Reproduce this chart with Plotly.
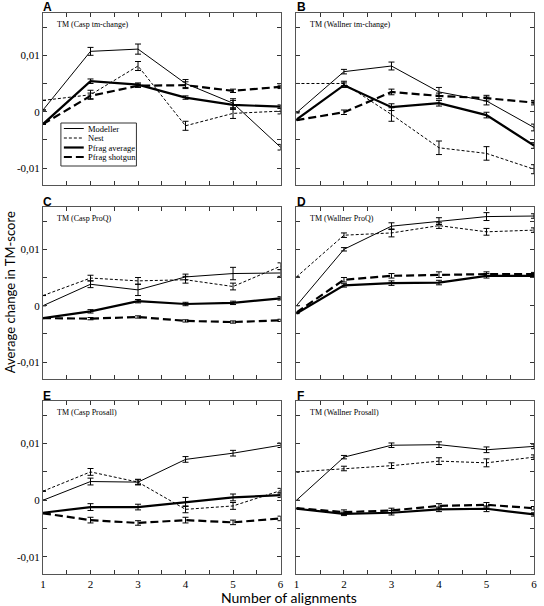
import plotly.graph_objects as go

x_alignments = [1, 2, 3, 4, 5, 6]
series_names = ["Modeller", "Nest", "Pfrag average", "Pfrag shotgun"]
panel_letters = ["A", "B", "C", "D", "E", "F"]
panel_titles = ["TM (Casp tm-change)", "TM (Wallner tm-change)", "TM (Casp ProQ)",
                "TM (Wallner ProQ)", "TM (Casp Prosall)", "TM (Wallner Prosall)"]
y_tick_vals = [-0.01, 0, 0.01]
y_tick_text = ["-0,01", "0", "0,01"]

# Panel A
A_modeller = [0.0003, 0.0107, 0.0111, 0.0050, 0.0015, -0.0063]
A_modeller_err = [0, 0.0007, 0.0009, 0.0007, 0.0008, 0.0005]
A_nest = [0.0020, 0.0030, 0.0081, -0.0025, -0.0003, 0.0001]
A_nest_err = [0, 0.0008, 0.0008, 0.0008, 0.0009, 0.0005]
A_pavg = [-0.0022, 0.0054, 0.0048, 0.0025, 0.0012, 0.0009]
A_pavg_err = [0, 0.0004, 0.0003, 0.0003, 0.0008, 0.0003]
A_pshot = [-0.0022, 0.0028, 0.0046, 0.0047, 0.0037, 0.0044]
A_pshot_err = [0, 0.0005, 0.0003, 0.0006, 0.0003, 0.0003]
# Panel B
B_modeller = [-0.0002, 0.0071, 0.0081, 0.0035, 0.0019, -0.0028]
B_modeller_err = [0, 0.0004, 0.0007, 0.0008, 0.0007, 0.0006]
B_nest = [0.0050, 0.0050, -0.0005, -0.0064, -0.0074, -0.0102]
B_nest_err = [0, 0.0004, 0.0012, 0.0012, 0.0012, 0.0008]
B_pavg = [-0.0014, 0.0047, 0.0008, 0.0015, -0.0006, -0.0060]
B_pavg_err = [0, 0.0004, 0.0006, 0.0005, 0.0005, 0.0005]
B_pshot = [-0.0015, -0.0001, 0.0035, 0.0028, 0.0024, 0.0016]
B_pshot_err = [0, 0.0004, 0.0005, 0.0005, 0.0005, 0.0004]
# Panel C
C_modeller = [0.0000, 0.0038, 0.0028, 0.0051, 0.0057, 0.0058]
C_modeller_err = [0, 0.0006, 0.0010, 0.0005, 0.0011, 0.0006]
C_nest = [0.0018, 0.0049, 0.0044, 0.0046, 0.0034, 0.0070]
C_nest_err = [0, 0.0005, 0.0006, 0.0006, 0.0006, 0.0006]
C_pavg = [-0.0022, -0.0010, 0.0008, 0.0003, 0.0005, 0.0013]
C_pavg_err = [0, 0.0003, 0.0003, 0.0003, 0.0003, 0.0003]
C_pshot = [-0.0022, -0.0023, -0.0020, -0.0027, -0.0029, -0.0026]
C_pshot_err = [0, 0.0002, 0.0002, 0.0002, 0.0002, 0.0002]
# Panel D
D_modeller = [0.0000, 0.0100, 0.0141, 0.0150, 0.0158, 0.0159]
D_modeller_err = [0, 0.0003, 0.0006, 0.0006, 0.0007, 0.0004]
D_nest = [0.0051, 0.0125, 0.0129, 0.0142, 0.0131, 0.0134]
D_nest_err = [0, 0.0004, 0.0007, 0.0005, 0.0006, 0.0004]
D_pavg = [-0.0014, 0.0036, 0.0040, 0.0041, 0.0053, 0.0053]
D_pavg_err = [0, 0.0003, 0.0004, 0.0004, 0.0004, 0.0003]
D_pshot = [-0.0012, 0.0046, 0.0053, 0.0055, 0.0056, 0.0056]
D_pshot_err = [0, 0.0004, 0.0004, 0.0005, 0.0004, 0.0003]
# Panel E
E_modeller = [0.0000, 0.0033, 0.0032, 0.0072, 0.0083, 0.0097]
E_modeller_err = [0, 0.0006, 0.0004, 0.0005, 0.0005, 0.0004]
E_nest = [0.0016, 0.0050, 0.0032, -0.0016, -0.0010, 0.0017]
E_nest_err = [0, 0.0006, 0.0005, 0.0006, 0.0006, 0.0004]
E_pavg = [-0.0022, -0.0012, -0.0012, -0.0003, 0.0005, 0.0009]
E_pavg_err = [0, 0.0006, 0.0005, 0.0008, 0.0006, 0.0004]
E_pshot = [-0.0023, -0.0035, -0.0040, -0.0035, -0.0039, -0.0032]
E_pshot_err = [0, 0.0005, 0.0004, 0.0005, 0.0004, 0.0004]
# Panel F
F_modeller = [0.0000, 0.0076, 0.0097, 0.0098, 0.0089, 0.0095]
F_modeller_err = [0, 0.0003, 0.0004, 0.0005, 0.0005, 0.0004]
F_nest = [0.0050, 0.0056, 0.0061, 0.0069, 0.0066, 0.0076]
F_nest_err = [0, 0.0004, 0.0005, 0.0006, 0.0007, 0.0004]
F_pavg = [-0.0015, -0.0024, -0.0022, -0.0016, -0.0015, -0.0025]
F_pavg_err = [0, 0.0003, 0.0004, 0.0004, 0.0005, 0.0003]
F_pshot = [-0.0014, -0.0021, -0.0018, -0.0010, -0.0008, -0.0014]
F_pshot_err = [0, 0.0004, 0.0004, 0.0004, 0.0004, 0.0003]

panels = [
    [(A_modeller, A_modeller_err), (A_nest, A_nest_err), (A_pavg, A_pavg_err), (A_pshot, A_pshot_err)],
    [(B_modeller, B_modeller_err), (B_nest, B_nest_err), (B_pavg, B_pavg_err), (B_pshot, B_pshot_err)],
    [(C_modeller, C_modeller_err), (C_nest, C_nest_err), (C_pavg, C_pavg_err), (C_pshot, C_pshot_err)],
    [(D_modeller, D_modeller_err), (D_nest, D_nest_err), (D_pavg, D_pavg_err), (D_pshot, D_pshot_err)],
    [(E_modeller, E_modeller_err), (E_nest, E_nest_err), (E_pavg, E_pavg_err), (E_pshot, E_pshot_err)],
    [(F_modeller, F_modeller_err), (F_nest, F_nest_err), (F_pavg, F_pavg_err), (F_pshot, F_pshot_err)],
]

line_styles = [
    dict(color="black", width=1, dash="solid"),
    dict(color="black", width=1, dash="3px,2px"),
    dict(color="black", width=2.2, dash="solid"),
    dict(color="black", width=2.2, dash="8px,4px"),
]

SERIF = "Liberation Serif, Times New Roman, serif"
SANS = "Lato, Liberation Sans, sans-serif"

W, H = 544, 606
ml, mr, mt, mb = 43, 7, 13, 32
pw = W - ml - mr
ph = H - mt - mb

def px_x(a, b):
    return [(a - ml) / pw, (b - ml) / pw]

def px_y(top, bottom):
    return [1 - (bottom - mt) / ph, 1 - (top - mt) / ph]

col_px = [(43, 282), (298, 537)]
row_px = [(13, 185), (207, 379), (401, 574)]
col_domains = [px_x(*c) for c in col_px]
row_domains = [px_y(*r) for r in row_px]

fig = go.Figure()
annotations = []
shapes = []
layout_axes = {}

for i, panel in enumerate(panels):
    row, col = divmod(i, 2)
    n = i + 1
    xa = "x" if n == 1 else f"x{n}"
    ya = "y" if n == 1 else f"y{n}"
    for j, (vals, errs) in enumerate(panel):
        fig.add_trace(go.Scatter(
            x=x_alignments, y=vals, mode="lines",
            line=line_styles[j], name=series_names[j],
            showlegend=False,
            error_y=dict(type="data", array=errs, visible=True, color="black",
                         thickness=1, width=3),
            xaxis=xa, yaxis=ya, cliponaxis=False,
        ))
    xkey = "xaxis" if n == 1 else f"xaxis{n}"
    ykey = "yaxis" if n == 1 else f"yaxis{n}"
    layout_axes[xkey] = dict(
        domain=col_domains[col], anchor=ya, range=[1, 6],
        tickvals=x_alignments, ticktext=[str(v) for v in x_alignments],
        showticklabels=(row == 2), ticks="inside", ticklen=4, tickcolor="#333",
        minor=dict(ticks="inside", dtick=0.5, tick0=1, ticklen=4, tickcolor="#333"),
        showline=True, linecolor="#555", linewidth=1, mirror="ticks",
        showgrid=False, zeroline=False,
        tickfont=dict(family=SERIF, size=11, color="black"),
    )
    layout_axes[ykey] = dict(
        domain=row_domains[row], anchor=xa, range=[-0.013, 0.0175],
        tickvals=y_tick_vals, ticktext=y_tick_text,
        showticklabels=(col == 0), ticks="inside", ticklen=4, tickcolor="#333",
        minor=dict(ticks="inside", dtick=0.005, tick0=0, ticklen=4, tickcolor="#333"),
        showline=True, linecolor="#555", linewidth=1, mirror="ticks",
        showgrid=False, zeroline=False,
        tickfont=dict(family=SERIF, size=11, color="black"),
    )
    annotations.append(dict(
        xref=f"{xa} domain", yref=f"{ya} domain", x=0.05, y=0.935,
        xanchor="left", yanchor="middle", showarrow=False,
        text=panel_titles[i], font=dict(family=SERIF, size=8, color="black"),
    ))
    hgt = row_px[row][1] - row_px[row][0]
    annotations.append(dict(
        xref=f"{xa} domain", yref=f"{ya} domain", x=-0.003, y=1 + 5.5 / hgt,
        xanchor="left", yanchor="middle", showarrow=False, borderpad=0,
        text=f"<b>{panel_letters[i]}</b>", font=dict(family="Liberation Sans, Arial", size=12, color="black"),
    ))

# Legend key drawn inside panel A (domain coordinates of panel A)
ax0, ax1 = col_px[0]
ay0, ay1 = row_px[0]

def dx(p):
    return (p - ax0) / (ax1 - ax0)

def dy(p):
    return 1 - (p - ay0) / (ay1 - ay0)

shapes.append(dict(type="rect", xref="x domain", yref="y domain",
                   x0=dx(61), x1=dx(137), y0=dy(166), y1=dy(123),
                   line=dict(color="#333", width=1), fillcolor="white", layer="above"))
legend_rows = [128.5, 138, 147.5, 157]
for j, name in enumerate(series_names):
    yy = dy(legend_rows[j])
    shapes.append(dict(type="line", xref="x domain", yref="y domain",
                       x0=dx(64), x1=dx(84), y0=yy, y1=yy,
                       line=dict(color="black", width=line_styles[j]["width"],
                                 dash=line_styles[j]["dash"]), layer="above"))
    annotations.append(dict(xref="x domain", yref="y domain", x=dx(87), y=yy,
                            xanchor="left", yanchor="middle", showarrow=False,
                            text=name, font=dict(family=SERIF, size=8.5, color="black"),
                            borderpad=0))

annotations.append(dict(
    xref="paper", yref="paper", x=-(ml - 10) / pw, y=1 - (292 - mt) / ph,
    xanchor="center", yanchor="middle", textangle=-90, showarrow=False,
    text="Average change in TM-score", font=dict(family=SANS, size=13, color="black"),
))
annotations.append(dict(
    xref="paper", yref="paper", x=(290 - ml) / pw, y=-(597 - 574) / ph,
    xanchor="center", yanchor="middle", showarrow=False, borderpad=0,
    text="Number of alignments", font=dict(family=SANS, size=14, color="black"),
))

fig.update_layout(
    width=W, height=H,
    margin=dict(l=ml, r=mr, t=mt, b=mb),
    paper_bgcolor="white", plot_bgcolor="white",
    annotations=annotations,
    shapes=shapes,
    showlegend=False,
    **layout_axes,
)

fig.write_html("out.html", config={"displayModeBar": False},
               post_script="document.body.style.margin='0';document.body.style.overflow='hidden';")
